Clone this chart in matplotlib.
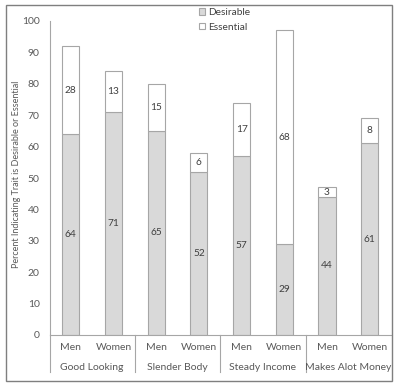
import numpy as np
import matplotlib.pyplot as plt
from matplotlib.patches import Rectangle
import matplotlib.transforms as mtransforms

plt.rcParams['font.family'] = ['Lato', 'DejaVu Sans']

groups = ["Good Looking", "Slender Body", "Steady Income", "Makes Alot Money"]
sexes = ["Men", "Women"]
desirable = [64, 71, 65, 52, 57, 29, 44, 61]
essential = [28, 13, 15, 6, 17, 68, 3, 8]

W, H = 396, 386
fig = plt.figure(figsize=(W / 100, H / 100), dpi=100)
ax = fig.add_axes([49.5 / W, (H - 335) / H, (391 - 49.5) / W, (335 - 21) / H])

txt = '#404040'
edge = '#a6a6a6'
x = np.arange(len(desirable))
b1 = ax.bar(x, desirable, width=0.4, color='#d9d9d9', edgecolor=edge, linewidth=0.8, label='Desirable')
b2 = ax.bar(x, essential, width=0.4, bottom=desirable, color='white', edgecolor=edge, linewidth=0.8, label='Essential')

for i in range(len(x)):
    ax.text(x[i], desirable[i] / 2, str(desirable[i]), ha='center', va='center', fontsize=7.3, color=txt)
    ax.text(x[i], desirable[i] + essential[i] / 2, str(essential[i]), ha='center', va='center', fontsize=7.3, color=txt)

ax.set_xlim(-0.5, len(x) - 0.5)
ax.set_ylim(0, 100)
ax.set_yticks(range(0, 101, 10))
ax.tick_params(axis='y', length=0, labelsize=7.5, labelcolor='#595959', pad=7)
ax.set_xticks([])
for s in ['top', 'right']:
    ax.spines[s].set_visible(False)
ax.spines['left'].set_color(edge)
ax.spines['bottom'].set_color(edge)
ax.spines['left'].set_linewidth(0.8)
ax.spines['bottom'].set_linewidth(0.8)

trans = mtransforms.blended_transform_factory(ax.transData, ax.transAxes)
for i in range(len(x)):
    ax.text(x[i], -0.041, sexes[i % 2], transform=trans, ha='center', va='center', fontsize=7.5, color='#595959')
for g in range(len(groups)):
    ax.text(2 * g + 0.5, -0.102, groups[g], transform=trans, ha='center', va='center', fontsize=7.5, color='#595959')
    ax.plot([2 * g - 0.5, 2 * g - 0.5], [0, -0.118], transform=trans, color=edge, lw=0.8, clip_on=False)

fig.text(17 / W, 0.5 * ((H - 270) + (H - 78)) / H, "Percent Indicating Trait is Desirable or Essential",
         rotation=90, ha='center', va='center', fontsize=6.5, color='#595959')

ax.legend(loc='upper left', bbox_to_anchor=(194 / W, (H - 3) / H), bbox_transform=fig.transFigure,
          frameon=False, fontsize=7.3, handlelength=0.6, handleheight=0.6, handletextpad=0.3,
          labelspacing=0.55, borderpad=0, labelcolor='#404040')

fig.patches.append(Rectangle((5.5 / W, (H - 381) / H), (392 - 5.5) / W, (381 - 5) / H,
                             transform=fig.transFigure, fill=False, edgecolor='#7f7f7f', lw=1.0))

fig.savefig('out.png', dpi=100)
